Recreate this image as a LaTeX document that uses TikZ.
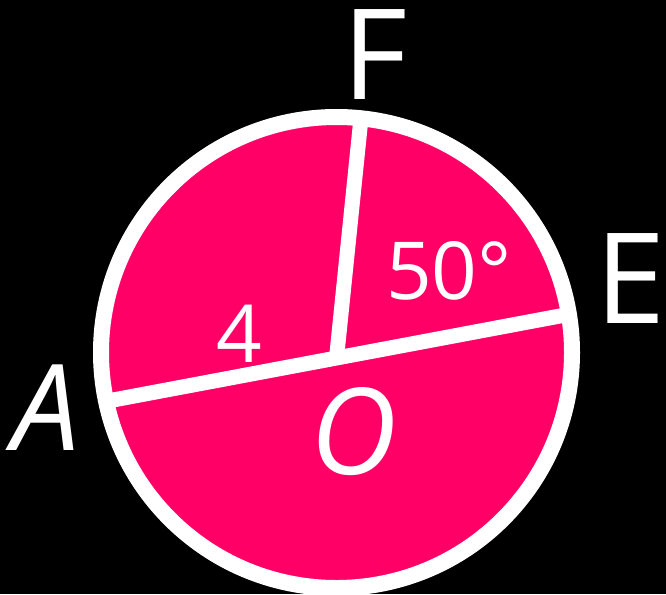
\documentclass[tikz,border=0pt]{standalone}
\usepackage{fontspec}
\setmainfont{Open Sans}
\definecolor{rosered}{RGB}{255,0,102}
\begin{document}
\begin{tikzpicture}[x=1pt,y=-1pt,
  seg/.style={draw=white,line width=15pt,line cap=butt},
  bigletter/.style={text=white,inner sep=0pt,font=\fontsize{126}{126}\selectfont},
  smalllabel/.style={text=white,inner sep=0pt,font=\fontsize{80}{80}\selectfont}]
\fill[black] (0,0) rectangle (666,594);
\useasboundingbox (0,0) rectangle (666,594);
\node[circle,minimum size=471pt,inner sep=0pt,fill=rosered] (c) at (336.5,352.5) {};
\coordinate (a) at (105.1,401.5);
\coordinate (e) at (567.9,314.5);
\coordinate (o) at (336.5,358);
\coordinate (f) at (360.8,120);
\draw[seg] (a) -- (e);
\draw[seg] (o) -- (f);
\node[circle,minimum size=471pt,inner sep=0pt,draw=white,line width=16pt] (ring) at (336.5,352.5) {};
\node[bigletter] (lF) at (375,55) {F};
\node[bigletter] (lE) at (631,279) {E};
\node[bigletter,font=\fontsize{120}{120}\selectfont\itshape] (lA) at (46,408) {A};
\node[bigletter,font=\fontsize{120}{120}\selectfont\itshape] (lO) at (354,432) {O};
\node[smalllabel] (l50) at (449,271) {50°};
\node[smalllabel] (l4) at (239,334) {4};
\end{tikzpicture}
\end{document}
